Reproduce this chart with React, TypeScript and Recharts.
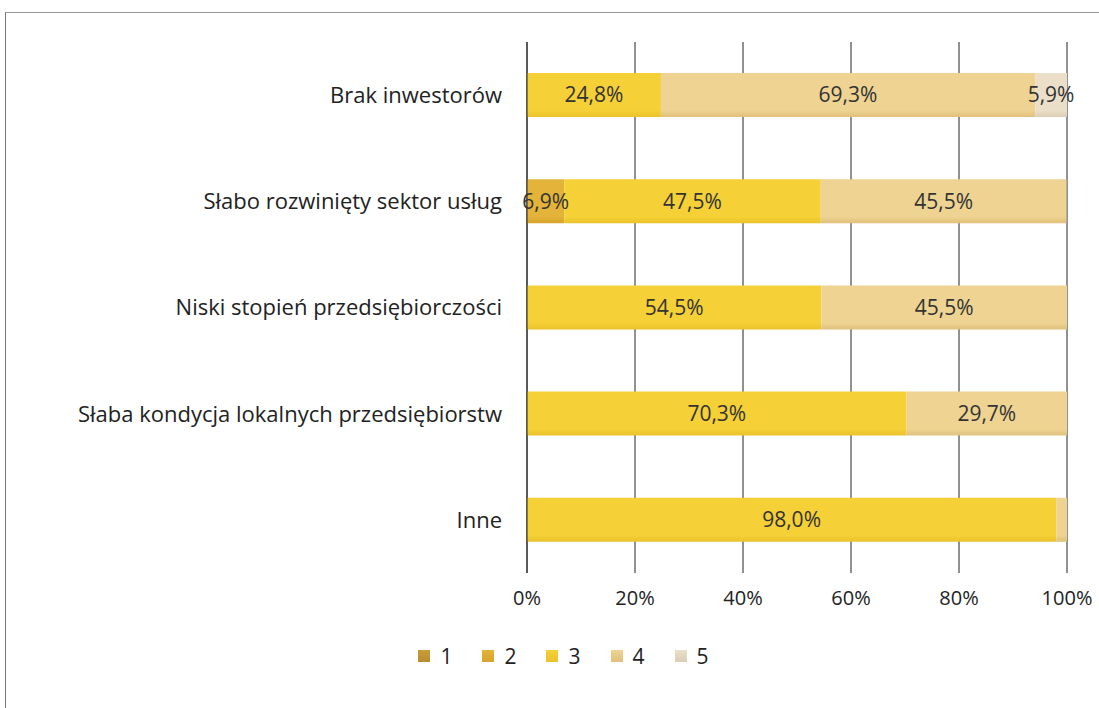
import React from "react";
import {
  BarChart,
  Bar,
  XAxis,
  YAxis,
  CartesianGrid,
  Legend,
  LabelList,
} from "recharts";

// categories (top to bottom)
const categories = [
  "Brak inwestorów",
  "Słabo rozwinięty sektor usług",
  "Niski stopień przedsiębiorczości",
  "Słaba kondycja lokalnych przedsiębiorstw",
  "Inne",
];

// shares of answers 1..5 per category (%)
const s1 = [0, 0, 0, 0, 0];
const s2 = [0, 6.9, 0, 0, 0];
const s3 = [24.8, 47.5, 54.5, 70.3, 98.0];
const s4 = [69.3, 45.5, 45.5, 29.7, 2.0];
const s5 = [5.9, 0, 0, 0, 0];

const seriesNames = ["1", "2", "3", "4", "5"];
const xTicks = [0, 20, 40, 60, 80, 100];

const colors = ["#c99d3c", "#e4b33a", "#f5d036", "#eed392", "#ebdfca"];
const darker = ["#b88c2e", "#d6a42c", "#ebc22c", "#e0c07c", "#dccdb4"];

const data = categories.map((name, i) => ({
  name,
  s1: s1[i],
  s2: s2[i],
  s3: s3[i],
  s4: s4[i],
  s5: s5[i],
}));

const FONT = "'Open Sans', Lato, sans-serif";

const fmt = (v: any) =>
  typeof v === "number" && v >= 3 ? v.toFixed(1).replace(".", ",") + "%" : "";

function LegendContent() {
  return (
    <div
      style={{
        display: "flex",
        justifyContent: "center",
        gap: 30,
        paddingLeft: 60,
        fontFamily: FONT,
        fontSize: 21,
        color: "#222",
      }}
    >
      {seriesNames.map((n, i) => (
        <div key={n} style={{ display: "flex", alignItems: "center" }}>
          <span
            style={{
              display: "inline-block",
              width: 12,
              height: 12,
              marginRight: 10,
              background: `linear-gradient(${colors[i]}, ${darker[i]})`,
            }}
          />
          <span>{n}</span>
        </div>
      ))}
    </div>
  );
}

export default function App() {
  return (
    <div
      style={{
        position: "absolute",
        left: 0,
        top: 0,
        width: 1099,
        height: 708,
        background: "#fff",
        overflow: "hidden",
      }}
    >
      <div
        style={{
          position: "absolute",
          left: 5,
          top: 12,
          width: 1200,
          height: 800,
          borderLeft: "1.5px solid #777",
          borderTop: "1.5px solid #999",
        }}
      />
      <BarChart
        layout="vertical"
        width={1099}
        height={708}
        data={data}
        margin={{ top: 42, right: 32, bottom: 50, left: 0 }}
        barSize={44}
        style={{ position: "absolute", left: 0, top: 0 }}
      >
        <defs>
          {colors.map((c, i) => (
            <linearGradient key={i} id={`g${i}`} x1="0" y1="0" x2="0" y2="1">
              <stop offset="0%" stopColor={c} />
              <stop offset="85%" stopColor={c} />
              <stop offset="100%" stopColor={darker[i]} />
            </linearGradient>
          ))}
        </defs>
        <CartesianGrid horizontal={false} stroke="#222" strokeWidth={1} />
        <XAxis
          type="number"
          domain={[0, 100]}
          ticks={xTicks}
          tickFormatter={(v) => `${v}%`}
          axisLine={false}
          tickLine={false}
          tick={{ fill: "#222", fontSize: 20, fontFamily: FONT }}
          dy={10}
          height={45}
        />
        <YAxis
          type="category"
          dataKey="name"
          width={527}
          axisLine={{ stroke: "#222" }}
          tickLine={false}
          tick={{ fill: "#222", fontSize: 22, fontFamily: FONT }}
          dx={-17}
        />
        {["s1", "s2", "s3", "s4", "s5"].map((k, i) => (
          <Bar
            key={k}
            dataKey={k}
            name={seriesNames[i]}
            stackId="a"
            fill={`url(#g${i})`}
            isAnimationActive={false}
          >
            <LabelList
              dataKey={k}
              position="center"
              formatter={fmt}
              fill="#333"
              fontSize={21}
              fontFamily={FONT}
            />
          </Bar>
        ))}
        <Legend
          verticalAlign="bottom"
          height={40}
          content={<LegendContent />}
          wrapperStyle={{ top: 642 }}
        />
      </BarChart>
    </div>
  );
}
